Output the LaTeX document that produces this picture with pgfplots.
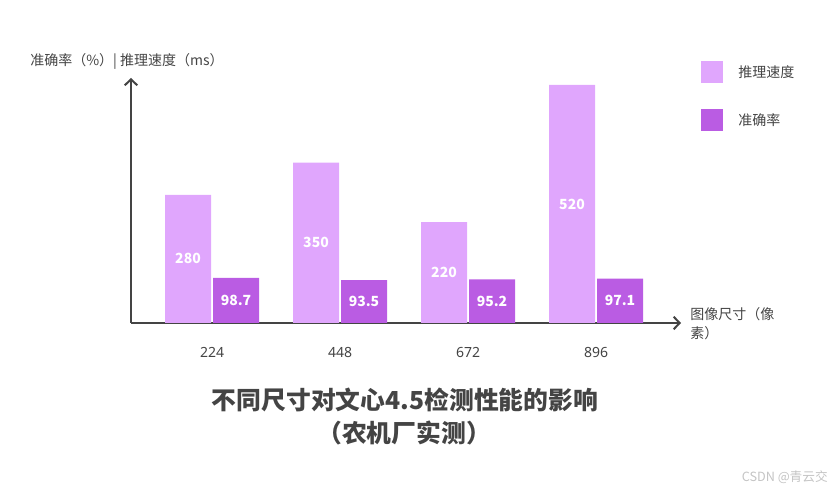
\documentclass[border=0pt]{standalone}
\usepackage{pgfplots}
\pgfplotsset{compat=1.18}
\usetikzlibrary{arrows.meta}
\usepackage{fontspec}
\setmainfont{Noto Sans}
\newfontfamily\cjk{Noto Sans CJK SC}

\definecolor{speedc}{HTML}{E0A6FD}
\definecolor{accc}{HTML}{BA5CE3}
\definecolor{axisc}{HTML}{444444}
\definecolor{textc}{HTML}{444444}
\definecolor{markc}{HTML}{C4C4C4}

\begin{document}
\begin{tikzpicture}
\path[use as bounding box] (0,0) rectangle (624pt,369pt);

\begin{axis}[
    at={(98.25pt,126.75pt)}, anchor=south west,
    scale only axis,
    width=412.5pt, height=183.75pt,
    xmin=-0.633, xmax=3.664,
    ymin=0, ymax=535,
    axis x line=bottom, axis y line=left,
    axis line style={draw=axisc, line width=1.5pt,
        -{Straight Barb[length=4.5pt,width=9.5pt]}},
    ytick=\empty,
    xtick={0,1,2,3},
    xticklabels={224,448,672,896},
    major tick length=0pt,
    xticklabel style={font=\fontsize{10.5}{12}\selectfont, text=textc, yshift=-15pt},
    /pgf/number format/assume math mode=true,
    ybar, bar width=34.5pt,
    visualization depends on=rawy \as \rawy,
    nodes near coords,
    every node near coord/.append style={font=\cjk\bfseries\fontsize{10.5}{12}\selectfont,
        text=white, anchor=center, yshift=-\rawy*0.17173pt},
    clip=false,
]
% inference speed (ms)
\addplot[fill=speedc, draw=none, bar shift=-18pt] coordinates {
    (0,280) (1,350) (2,220) (3,520)
};
% accuracy (%)
\addplot[fill=accc, draw=none, bar shift=18pt] coordinates {
    (0,98.7) (1,93.5) (2,95.2) (3,97.1)
};
\end{axis}

% axis labels
\node[anchor=west, text=textc, font=\cjk\fontsize{10.5}{12}\selectfont, inner sep=0pt]
    at (22.5pt,323.25pt) {准确率（\%）| 推理速度（ms）};
\node[anchor=west, text=textc, font=\cjk\fontsize{10.5}{12}\selectfont, inner sep=0pt]
    at (517.5pt,133.5pt) {图像尺寸（像};
\node[anchor=west, text=textc, font=\cjk\fontsize{10.5}{12}\selectfont, inner sep=0pt]
    at (517.5pt,119.25pt) {素）};

% legend
\fill[speedc] (525.75pt,323.25pt) rectangle ++(16.5pt,-16.5pt);
\fill[accc] (525.75pt,287.25pt) rectangle ++(16.5pt,-16.5pt);
\node[anchor=west, text=textc, font=\cjk\fontsize{10.5}{12}\selectfont, inner sep=0pt]
    at (553.5pt,315pt) {推理速度};
\node[anchor=west, text=textc, font=\cjk\fontsize{10.5}{12}\selectfont, inner sep=0pt]
    at (553.5pt,279pt) {准确率};

% title
\node[text=textc, font=\cjk\fontsize{18.6}{20}\selectfont\bfseries, inner sep=0pt]
    at (303.75pt,69pt) {不同尺寸对文心4.5检测性能的影响};
\node[text=textc, font=\cjk\fontsize{18.6}{20}\selectfont\bfseries, inner sep=0pt]
    at (303pt,44.25pt) {（农机厂实测）};

% watermark
\node[anchor=east, text=markc, font=\cjk\fontsize{9.5}{11}\selectfont, inner sep=0pt]
    at (621pt,11.25pt) {CSDN @青云交};
\end{tikzpicture}
\end{document}
